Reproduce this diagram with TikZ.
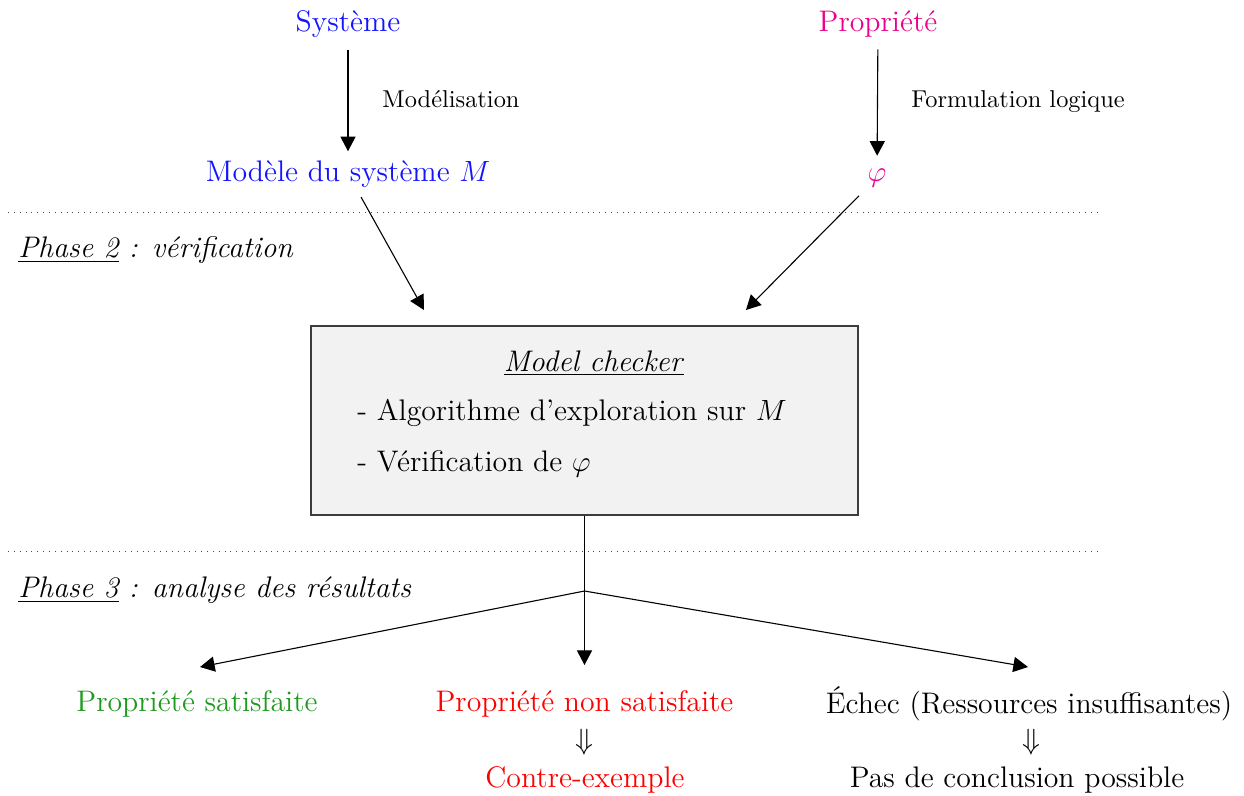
\documentclass[tikz,border=0pt]{standalone}
\usetikzlibrary{arrows.meta}
\definecolor{sysblue}{RGB}{20,20,255}
\definecolor{propmag}{RGB}{236,0,140}
\definecolor{okgreen}{RGB}{30,155,30}
\definecolor{boxfill}{RGB}{242,242,242}
\definecolor{boxline}{RGB}{60,60,60}
\begin{document}
\begin{tikzpicture}[x=0.41pt,y=-0.41pt,
  txt/.style={inner sep=0pt,anchor=base,font=\fontsize{12.2}{14}\selectfont},
  txtw/.style={inner sep=0pt,anchor=base west,font=\fontsize{12.2}{14}\selectfont},
  lbl/.style={inner sep=0pt,anchor=base west,font=\fontsize{10}{12}\selectfont},
  arr/.style={-{Triangle[width=6.2pt,length=6pt]},line width=0.45pt},
  conn/.style={line width=0.45pt},
  sep/.style={dotted,line width=0.4pt,black!70}]
\useasboundingbox (0,0) rectangle (1244,795);

% Phase 1
\node[txt,text=sysblue] (sys) at (348,31) {Système};
\node[txt,text=sysblue] (mod) at (348,181) {Modèle du système $M$};
\node[lbl] (modlbl) at (382,107) {Modélisation};
\node[txt,text=propmag] (prop) at (878,31) {Propriété};
\node[txt,text=propmag] (phi) at (877,181) {$\varphi$};
\node[lbl] (formlbl) at (911,107) {Formulation logique};

\draw[arr,shorten <=5pt,shorten >=3.5pt] (sys) -- (mod);
\draw[arr,shorten <=5pt,shorten >=5pt] (prop) -- (phi);

% separators
\coordinate (d1a) at (8,212);
\coordinate (d1b) at (1100,212);
\draw[sep] (d1a) -- (d1b);
\coordinate (d2a) at (8,551);
\coordinate (d2b) at (1100,551);
\draw[sep] (d2a) -- (d2b);

% Phase 2
\node[txtw] (ph2) at (18,257) {\textit{\underline{Phase 2} : vérification}};

\node[draw=boxline,fill=boxfill,line width=0.45pt,minimum width=224.3pt,minimum height=77.5pt,inner sep=0pt] (box) at (584.5,420.5) {};
\node[txt] (mc) at (594,371) {\underline{\textit{Model checker}}};
\node[txtw] (alg) at (357,420) {- Algorithme d'exploration sur $M$};
\node[txtw] (ver) at (357,471) {- Vérification de $\varphi$};

\coordinate (tipL) at (424,310);
\coordinate (tipR) at (746,310);
\draw[arr,shorten <=4.5pt] (mod) -- (tipL);
\draw[arr,shorten <=5pt] (phi) -- (tipR);

% Phase 3
\node[txtw] (ph3) at (18,597) {\textit{\underline{Phase 3} : analyse des résultats}};
\coordinate (split) at (584.5,591);
\coordinate (tipA) at (200,667);
\coordinate (tipB) at (584.5,665);
\coordinate (tipC) at (1028,667);
\draw[conn] (box.south) -- (split);
\draw[arr] (split) -- (tipA);
\draw[arr] (split) -- (tipB);
\draw[arr] (split) -- (tipC);

\node[txt,text=okgreen] (sat) at (197,711) {Propriété satisfaite};
\node[txt,text=red] (nsat) at (584.5,711) {Propriété non satisfaite};
\node[txt] (impl1) at (584.5,749) {$\Downarrow$};
\node[txt,text=red] (ce) at (585,787) {Contre-exemple};
\node[txt] (fail) at (1029,713) {Échec (Ressources insuffisantes)};
\node[txt] (impl2) at (1031,749) {$\Downarrow$};
\node[txt] (nc) at (1017,787) {Pas de conclusion possible};
\end{tikzpicture}
\end{document}
